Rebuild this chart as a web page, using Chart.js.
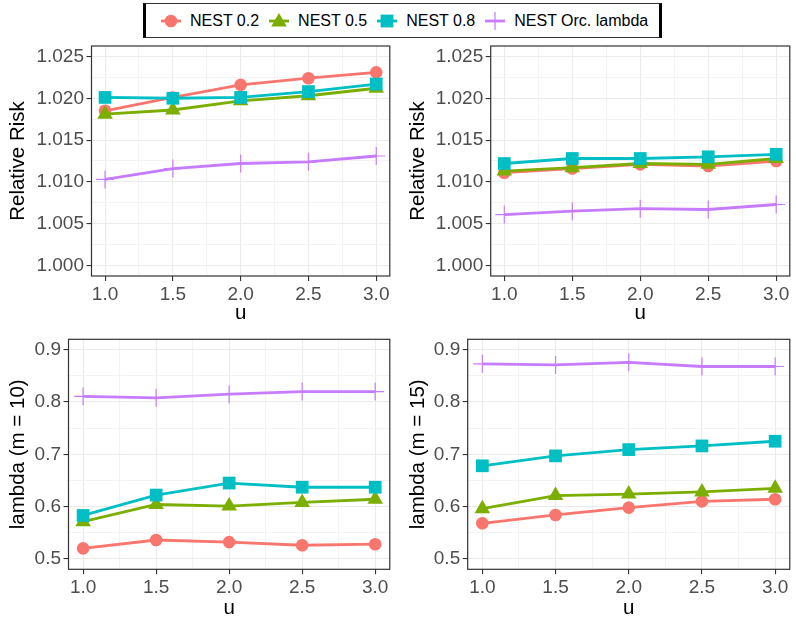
<!DOCTYPE html>
<html lang="en">

<head>
    <meta charset="UTF-8">
    <title>NEST - Relative Risk e lambda</title>
    <script src="https://cdn.jsdelivr.net/npm/chart.js"></script>
    <style>
        body {
            margin: 0;
            width: 796px;
            height: 621px;
            overflow: hidden;
            background: #fff;
            position: relative;
            font-family: 'Liberation Sans', Arial, sans-serif;
        }

        canvas {
            position: absolute;
        }

        #legenda {
            position: absolute;
            left: 143px;
            top: 3px;
            width: 498px;
            height: 33px;
            padding-left: 15px;
            border-top: 1px solid #333;
            border-bottom: 1px solid #333;
            border-left: 3px solid #000;
            border-right: 3px solid #000;
            background: #fff;
            z-index: 2;
            display: flex;
            align-items: center;
            white-space: nowrap;
        }

        .item {
            display: flex;
            align-items: center;
            flex: none;
            margin-right: 10px;
            font-size: 16px;
            color: #000;
        }

        .item svg {
            margin-right: 9px;
        }
    </style>
</head>

<body>
    <div id="legenda"></div>

    <canvas id="painel1" width="400" height="306" style="left:0px; top:20px"></canvas>
    <canvas id="painel2" width="400" height="306" style="left:400px; top:20px"></canvas>
    <canvas id="painel3" width="400" height="301" style="left:0px; top:320px"></canvas>
    <canvas id="painel4" width="400" height="301" style="left:400px; top:320px"></canvas>

    <script>
        // dados
        const uValues = [1.0, 1.5, 2.0, 2.5, 3.0];
        const xTicks = [1.0, 1.5, 2.0, 2.5, 3.0];
        const xTicksMinor = [1.25, 1.75, 2.25, 2.75];
        const riskTicks = [1.000, 1.005, 1.010, 1.015, 1.020, 1.025];
        const riskTicksMinor = [1.0025, 1.0075, 1.0125, 1.0175, 1.0225];
        const lambdaTicks = [0.5, 0.6, 0.7, 0.8, 0.9];
        const lambdaTicksMinor = [0.55, 0.65, 0.75, 0.85];

        const seriesNames = ['NEST 0.2', 'NEST 0.5', 'NEST 0.8', 'NEST Orc. lambda'];
        const seriesColors = ['#F8766D', '#7CAE00', '#00BFC4', '#C77CFF'];

        // Relative Risk, m = 10
        const rr10_02 = [1.0185, 1.0201, 1.0216, 1.0224, 1.0231];
        const rr10_05 = [1.0181, 1.0186, 1.0197, 1.0203, 1.0212];
        const rr10_08 = [1.0201, 1.0200, 1.0201, 1.0208, 1.0217];
        const rr10_orc = [1.0103, 1.0116, 1.0122, 1.0124, 1.0131];

        // Relative Risk, m = 15
        const rr15_02 = [1.0111, 1.0116, 1.0121, 1.0119, 1.0125];
        const rr15_05 = [1.0113, 1.0117, 1.0122, 1.0121, 1.0128];
        const rr15_08 = [1.0122, 1.0128, 1.0128, 1.0130, 1.0133];
        const rr15_orc = [1.0061, 1.0065, 1.0068, 1.0067, 1.0073];

        // lambda, m = 10
        const lam10_02 = [0.520, 0.536, 0.532, 0.526, 0.528];
        const lam10_05 = [0.571, 0.604, 0.601, 0.608, 0.614];
        const lam10_08 = [0.583, 0.622, 0.645, 0.637, 0.637];
        const lam10_orc = [0.811, 0.808, 0.815, 0.820, 0.820];

        // lambda, m = 15
        const lam15_02 = [0.568, 0.584, 0.598, 0.610, 0.614];
        const lam15_05 = [0.596, 0.621, 0.624, 0.628, 0.635];
        const lam15_08 = [0.678, 0.697, 0.709, 0.716, 0.725];
        const lam15_orc = [0.873, 0.871, 0.876, 0.868, 0.868];

        // estilo
        const pointStyles = ['circle', 'triangle', 'rect', 'cross'];
        const pointSizes = [6.3, 9, 9, 9];

        Chart.defaults.font.family = "'Liberation Sans', Arial, sans-serif";

        // legenda em html
        const legendShapes = [
            '<circle cx="10" cy="10" r="6.3" fill="#F8766D"/>',
            '<polygon points="10,2 17.8,15.5 2.2,15.5" fill="#7CAE00"/>',
            '<rect x="3.6" y="3.6" width="12.8" height="12.8" fill="#00BFC4"/>',
            '<path d="M10 1 V19 M1 10 H19" stroke="#C77CFF" stroke-width="1.2"/>'
        ];
        const legenda = document.getElementById('legenda');
        seriesNames.forEach((nome, i) => {
            legenda.innerHTML += '<div class="item"><svg width="20" height="20">' +
                '<line x1="0" y1="10" x2="20" y2="10" stroke="' + seriesColors[i] + '" stroke-width="2.8"/>' +
                legendShapes[i] + '</svg><span>' + nome + '</span></div>';
        });

        const bordaPainel = {
            id: 'bordaPainel',
            afterDraw(chart) {
                const { ctx, chartArea: a } = chart;
                ctx.save();
                ctx.strokeStyle = '#333333';
                ctx.lineWidth = 1.2;
                ctx.strokeRect(a.left, a.top, a.right - a.left, a.bottom - a.top);
                ctx.restore();
            }
        };

        function isIn(list, v) {
            return list.some(m => Math.abs(m - v) < 1e-9);
        }

        function desenhar(id, series, layout, yCfg) {
            const datasets = series.map((arr, i) => ({
                label: seriesNames[i],
                data: uValues.map((u, j) => ({ x: u, y: arr[j] })),
                borderColor: seriesColors[i],
                backgroundColor: seriesColors[i],
                pointStyle: pointStyles[i],
                pointRadius: pointSizes[i],
                pointBorderWidth: i === 3 ? 1.2 : 0,
                borderWidth: 2.8,
                order: 4 - i,
                clip: false
            }));

            new Chart(document.getElementById(id), {
                type: 'line',
                data: { datasets: datasets },
                options: {
                    responsive: false,
                    animation: false,
                    devicePixelRatio: 1,
                    layout: { padding: { top: layout.padTop, right: layout.padRight, left: 0, bottom: 0 } },
                    plugins: { legend: { display: false }, tooltip: { enabled: false } },
                    scales: {
                        x: {
                            type: 'linear',
                            min: 0.9,
                            max: 3.1,
                            afterBuildTicks: s => {
                                s.ticks = xTicks.concat(xTicksMinor).sort((a, b) => a - b).map(v => ({ value: v }));
                            },
                            afterFit: s => { s.height = layout.xHeight; },
                            border: { display: false },
                            grid: {
                                color: c => (c.tick && isIn(xTicks, c.tick.value)) ? '#EBEBEB' : '#F3F3F3',
                                lineWidth: 1.1,
                                tickLength: 5,
                                tickColor: c => (c.tick && isIn(xTicks, c.tick.value)) ? '#333333' : 'rgba(0,0,0,0)'
                            },
                            ticks: {
                                autoSkip: false,
                                maxRotation: 0,
                                padding: 2,
                                color: '#4D4D4D',
                                font: { size: 19 },
                                callback: v => isIn(xTicks, v) ? v.toFixed(1) : ''
                            },
                            title: {
                                display: true,
                                text: 'u',
                                color: '#000',
                                font: { size: 20.5 },
                                padding: { top: 0, bottom: 0 }
                            }
                        },
                        y: {
                            min: yCfg.min,
                            max: yCfg.max,
                            afterBuildTicks: s => {
                                s.ticks = yCfg.major.concat(yCfg.minor).sort((a, b) => a - b).map(v => ({ value: v }));
                            },
                            afterFit: s => { s.width = layout.yWidth; },
                            border: { display: false },
                            grid: {
                                color: c => (c.tick && isIn(yCfg.major, c.tick.value)) ? '#EBEBEB' : '#F3F3F3',
                                lineWidth: 1.1,
                                tickLength: 5,
                                tickColor: c => (c.tick && isIn(yCfg.major, c.tick.value)) ? '#333333' : 'rgba(0,0,0,0)'
                            },
                            ticks: {
                                autoSkip: false,
                                padding: 2.5,
                                color: '#4D4D4D',
                                font: { size: 19 },
                                callback: v => isIn(yCfg.major, v) ? v.toFixed(yCfg.decimals) : ''
                            },
                            title: {
                                display: true,
                                text: yCfg.title,
                                color: '#000',
                                font: { size: 20.5 },
                                padding: { top: 6.5, bottom: 0 }
                            }
                        }
                    }
                },
                plugins: [bordaPainel]
            });
        }

        const yRisk = { min: 0.99875, max: 1.02625, major: riskTicks, minor: riskTicksMinor, decimals: 3 };
        const yLambda10 = { min: 0.48, max: 0.92, major: lambdaTicks, minor: lambdaTicksMinor, decimals: 1, title: 'lambda (m = 10)' };
        const yLambda15 = { min: 0.48, max: 0.92, major: lambdaTicks, minor: lambdaTicksMinor, decimals: 1, title: 'lambda (m = 15)' };

        desenhar('painel1', [rr10_02, rr10_05, rr10_08, rr10_orc],
            { padTop: 26, padRight: 4.5, yWidth: 91.5, xHeight: 50 },
            Object.assign({ title: 'Relative Risk' }, yRisk));
        desenhar('painel2', [rr15_02, rr15_05, rr15_08, rr15_orc],
            { padTop: 26, padRight: 4.5, yWidth: 90.7, xHeight: 50 },
            Object.assign({ title: 'Relative Risk' }, yRisk));
        desenhar('painel3', [lam10_02, lam10_05, lam10_08, lam10_orc],
            { padTop: 19.3, padRight: 5.2, yWidth: 68.5, xHeight: 51.7 }, yLambda10);
        desenhar('painel4', [lam15_02, lam15_05, lam15_08, lam15_orc],
            { padTop: 19.3, padRight: 5.7, yWidth: 67.7, xHeight: 51.7 }, yLambda15);
    </script>
</body>

</html>
